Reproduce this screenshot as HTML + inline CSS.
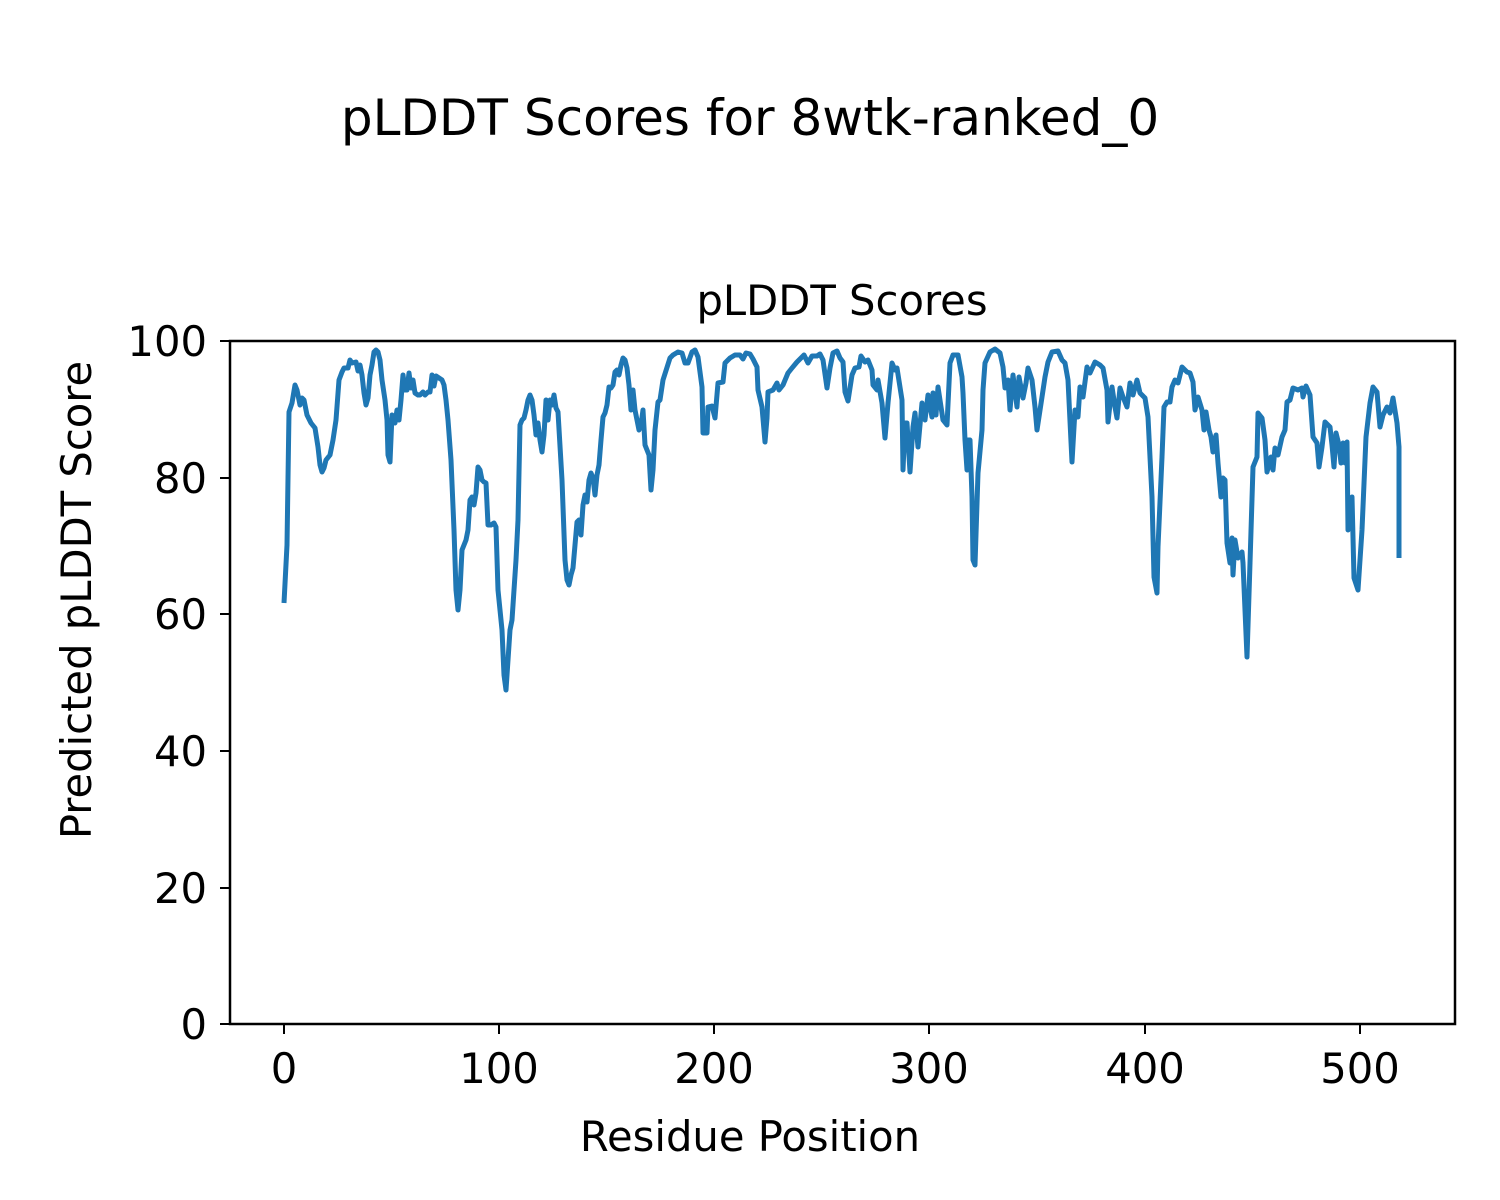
<!DOCTYPE html>
<html><head><meta charset="utf-8"><style>body{margin:0;background:#fff}svg{display:block}</style></head><body>
<svg width="1500" height="1200" xmlns="http://www.w3.org/2000/svg" font-family="'DejaVu Sans','Liberation Sans',sans-serif">
<rect width="1500" height="1200" fill="#fff"/>
<text x="750" y="135" font-size="50" text-anchor="middle">pLDDT Scores for 8wtk-ranked_0</text>
<text x="842" y="315" font-size="41.7" text-anchor="middle">pLDDT Scores</text>
<polyline fill="none" stroke="#1f77b4" stroke-width="5" stroke-linejoin="round" points="284,603 287,545 289,412 292,403 295,385 297,390 300,405 302,398 304,400 307,415 311,423 315,428 318,447 320,465 322,472 324,468 326,460 330,455 333,440 336,420 339,380 342,372 344,368 348,368 350,360 352,363 356,362 358,371 360,365 362,375 364,393 366,405 368,398 370,375 372,365 374,352 376,350 378,352 380,360 382,380 385,400 387,420 388,455 390,462 392,415 395,423 397,410 399,420 401,400 403,375 405,390 407,390 409,373 411,388 413,380 415,393 418,395 420,395 423,392 425,395 428,392 430,392 432,375 434,386 436,376 439,378 442,380 444,385 446,400 448,420 451,460 454,530 456,590 458,610 460,590 462,550 464,545 466,540 468,530 470,500 472,497 474,505 476,493 478,467 480,470 482,480 484,482 486,483 488,525 491,525 494,523 496,527 498,590 500,610 502,630 504,675 506,690 508,660 510,630 512,620 514,590 516,560 518,520 520,425 522,420 524,418 526,410 528,400 530,395 532,400 534,415 536,435 538,423 540,440 542,452 544,435 546,400 548,420 550,400 552,405 554,395 556,408 558,412 562,480 565,560 567,580 569,585 571,575 573,568 575,545 577,522 579,520 581,535 583,505 585,495 587,502 589,480 591,473 593,478 595,495 597,475 599,465 601,440 603,417 605,413 607,405 609,387 611,388 613,385 615,372 617,370 619,375 621,365 623,358 625,360 627,368 629,385 631,410 633,390 635,410 637,420 639,430 641,425 643,410 645,445 647,450 649,455 651,490 653,470 655,430 658,402 660,400 663,380 670,358 673,355 678,352 682,353 685,363 688,363 692,352 695,350 698,357 702,387 703,433 707,433 708,407 712,406 715,418 718,383 723,382 725,363 730,358 735,355 740,355 743,359 746,353 750,354 753,359 757,367 758,390 762,407 765,442 767,418 768,392 773,390 777,383 779,390 783,385 788,373 792,368 797,362 800,359 804,355 808,363 812,356 817,356 820,354 823,360 827,388 830,368 833,353 837,351 840,358 843,362 845,392 848,401 852,375 855,368 859,367 861,356 865,362 868,360 872,370 873,385 877,390 878,380 882,403 885,438 888,403 892,363 895,370 897,368 902,400 903,470 905,423 907,423 910,472 913,427 915,413 918,447 922,403 925,420 928,395 932,417 933,393 936,415 938,387 943,420 947,425 950,363 953,355 958,355 962,377 963,393 965,440 967,470 968,440 970,440 972,497 973,560 975,565 978,473 982,430 983,390 985,363 990,352 995,349 1000,353 1003,367 1005,388 1008,380 1010,410 1013,375 1017,407 1019,377 1023,398 1026,383 1028,368 1032,380 1035,407 1037,430 1042,397 1045,377 1048,362 1052,352 1058,351 1062,360 1065,363 1068,380 1072,462 1075,410 1078,417 1080,387 1083,397 1087,367 1090,373 1095,362 1100,365 1103,368 1107,390 1108,422 1112,387 1115,407 1117,418 1120,388 1123,397 1127,407 1130,383 1133,395 1137,380 1140,393 1145,398 1148,417 1152,497 1154,577 1157,593 1158,547 1162,457 1164,407 1167,402 1170,402 1172,387 1175,380 1178,383 1182,367 1187,372 1190,373 1193,382 1195,410 1198,397 1202,410 1204,430 1206,412 1209,430 1211,437 1213,452 1216,435 1218,463 1221,497 1223,478 1225,480 1227,543 1230,563 1232,538 1233,575 1235,540 1238,558 1242,552 1243,563 1247,657 1250,563 1253,467 1257,457 1258,413 1262,418 1265,440 1267,472 1271,457 1273,470 1275,448 1278,455 1282,437 1285,430 1287,402 1290,400 1293,388 1298,390 1302,388 1303,397 1306,386 1310,395 1313,437 1317,443 1319,467 1322,447 1325,422 1330,427 1332,445 1334,467 1336,433 1339,445 1341,463 1343,443 1345,463 1347,442 1348,530 1352,497 1354,578 1358,590 1362,530 1366,437 1370,403 1373,387 1377,392 1380,427 1383,415 1387,407 1390,413 1393,398 1397,423 1399,447 1399,558"/>
<rect x="230" y="341" width="1225" height="683" fill="none" stroke="#000" stroke-width="2.5"/>
<g stroke="#000" stroke-width="2">
<line x1="220" y1="341" x2="230" y2="341"/><line x1="220" y1="478" x2="230" y2="478"/><line x1="220" y1="614" x2="230" y2="614"/><line x1="220" y1="751" x2="230" y2="751"/><line x1="220" y1="888" x2="230" y2="888"/><line x1="220" y1="1024" x2="230" y2="1024"/>
<line x1="284" y1="1024" x2="284" y2="1034"/><line x1="499" y1="1024" x2="499" y2="1034"/><line x1="714" y1="1024" x2="714" y2="1034"/><line x1="929" y1="1024" x2="929" y2="1034"/><line x1="1145" y1="1024" x2="1145" y2="1034"/><line x1="1360" y1="1024" x2="1360" y2="1034"/>
</g>
<g font-size="41.7" text-anchor="end">
<text x="207" y="356">100</text><text x="207" y="493">80</text><text x="207" y="629">60</text><text x="207" y="766">40</text><text x="207" y="903">20</text><text x="207" y="1039">0</text>
</g>
<g font-size="41.7" text-anchor="middle">
<text x="284" y="1083">0</text><text x="499" y="1083">100</text><text x="714" y="1083">200</text><text x="929" y="1083">300</text><text x="1145" y="1083">400</text><text x="1360" y="1083">500</text>
</g>
<text x="750" y="1151" font-size="41.7" text-anchor="middle">Residue Position</text>
<text transform="translate(91,600) rotate(-90)" font-size="41.7" text-anchor="middle">Predicted pLDDT Score</text>
</svg>
</body></html>
